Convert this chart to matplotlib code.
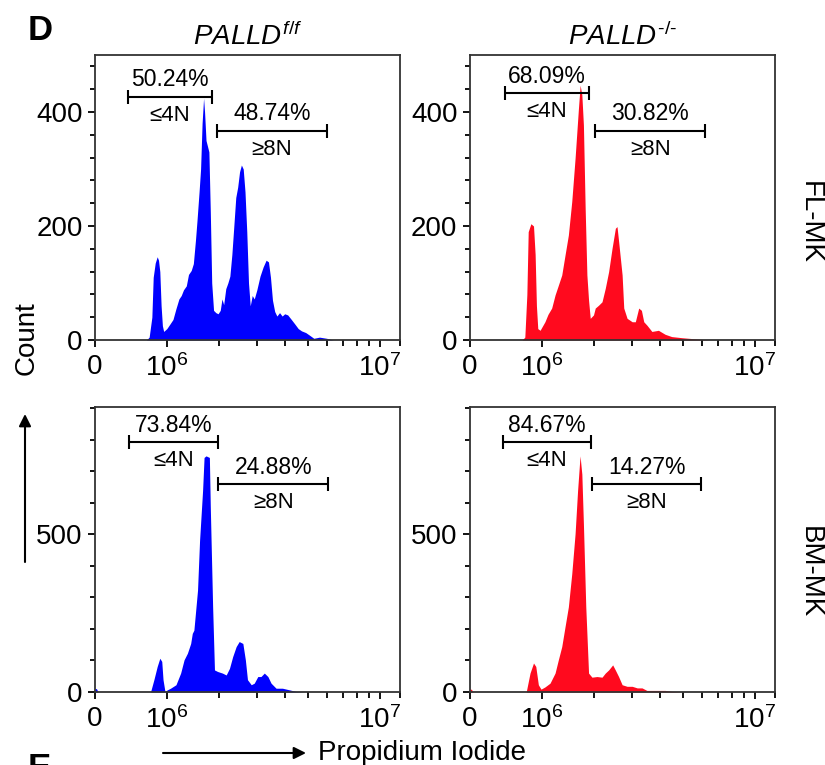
import numpy as np
import matplotlib.pyplot as plt
from matplotlib.patches import FancyArrowPatch
from matplotlib.ticker import MultipleLocator

plt.rcParams["font.family"] = ["Liberation Sans", "DejaVu Sans"]
plt.rcParams["mathtext.fontset"] = "custom"
plt.rcParams["mathtext.rm"] = "Liberation Sans"
plt.rcParams["mathtext.it"] = "Liberation Sans:italic"
plt.rcParams["mathtext.bf"] = "Liberation Sans:bold"

# --- PI histograms (intensity, count) -------------------------------------
fl_ff_x = [6.9e5, 7.3e5, 7.7e5, 7.9e5, 8.2e5, 8.5e5, 8.7e5, 8.9e5, 9.1e5, 9.3e5,
           9.5e5, 9.8e5, 1.0e6, 1.05e6, 1.1e6, 1.15e6, 1.2e6, 1.24e6, 1.28e6, 1.33e6,
           1.37e6, 1.42e6, 1.46e6, 1.5e6, 1.53e6, 1.57e6, 1.6e6, 1.63e6, 1.66e6, 1.68e6,
           1.71e6, 1.74e6, 1.77e6, 1.8e6, 1.83e6, 1.87e6, 1.92e6, 1.97e6, 2.02e6, 2.06e6,
           2.1e6, 2.15e6, 2.2e6, 2.25e6, 2.3e6, 2.35e6, 2.4e6, 2.45e6, 2.5e6, 2.55e6,
           2.6e6, 2.65e6, 2.7e6, 2.75e6, 2.8e6, 2.86e6, 2.92e6, 3.0e6, 3.1e6, 3.2e6,
           3.3e6, 3.38e6, 3.45e6, 3.52e6, 3.6e6, 3.68e6, 3.78e6, 3.88e6, 3.98e6, 4.1e6,
           4.25e6, 4.4e6, 4.55e6, 4.7e6, 4.9e6, 5.1e6, 5.3e6, 5.6e6, 6.0e6, 6.4e6]
fl_ff_count = [0, 5, 40, 110, 135, 146, 140, 120, 60, 25,
               15, 18, 20, 28, 36, 55, 72, 78, 88, 95,
               115, 122, 134, 175, 210, 260, 300, 380, 424, 400,
               350, 340, 330, 225, 100, 52, 48, 46, 52, 72,
               62, 90, 100, 112, 150, 200, 250, 268, 295, 307,
               300, 260, 190, 100, 60, 78, 72, 88, 112, 128,
               140, 137, 110, 70, 50, 42, 48, 42, 46, 44,
               36, 28, 20, 16, 13, 8, 3, 5, 3, 0]

fl_ko_x = [7.0e5, 7.4e5, 7.7e5, 7.9e5, 8.3e5, 8.7e5, 8.95e5, 9.15e5, 9.36e5, 9.72e5,
           1.05e6, 1.1e6, 1.162e6, 1.22e6, 1.277e6, 1.338e6, 1.398e6, 1.46e6, 1.525e6, 1.59e6,
           1.657e6, 1.692e6, 1.727e6, 1.76e6, 1.797e6, 1.834e6, 1.87e6, 1.907e6, 1.98e6, 2.02e6,
           2.097e6, 2.18e6, 2.261e6, 2.345e6, 2.434e6, 2.522e6, 2.567e6, 2.613e6, 2.71e6, 2.757e6,
           2.855e6, 3.01e6, 3.11e6, 3.22e6, 3.31e6, 3.39e6, 3.5e6, 3.68e6, 3.93e6, 4.2e6,
           4.48e6, 4.96e6, 5.64e6, 6.41e6]
fl_ko_count = [0, 5, 80, 190, 204, 200, 150, 60, 20, 17,
               32, 45, 56, 79, 96, 114, 149, 184, 243, 319,
               406, 447, 430, 377, 231, 114, 70, 38, 44, 56,
               61, 67, 91, 120, 161, 196, 199, 172, 114, 56,
               38, 32, 32, 56, 52, 32, 26, 15, 17, 10,
               6, 4, 2, 0]

bm_ff_x = [0, 2e4, 4e4, 7.5e5, 8.0e5, 8.5e5, 8.9e5, 9.2e5, 9.4e5, 9.7e5,
           1.01e6, 1.06e6, 1.15e6, 1.23e6, 1.29e6, 1.35e6, 1.41e6, 1.44e6, 1.47e6, 1.54e6,
           1.58e6, 1.64e6, 1.67e6, 1.71e6, 1.78e6, 1.80e6, 1.85e6, 1.89e6, 1.96e6, 2.07e6,
           2.16e6, 2.24e6, 2.32e6, 2.41e6, 2.49e6, 2.59e6, 2.66e6, 2.72e6, 2.83e6, 2.92e6,
           3.03e6, 3.13e6, 3.24e6, 3.36e6, 3.47e6, 3.65e6, 3.89e6, 4.16e6, 4.44e6, 4.74e6]
bm_ff_count = [12, 10, 0, 0, 39, 81, 107, 97, 39, 2,
               7, 12, 23, 60, 102, 123, 154, 186, 196, 323,
               481, 639, 744, 749, 744, 586, 270, 70, 65, 60,
               54, 75, 112, 144, 160, 154, 102, 39, 23, 28,
               49, 49, 60, 49, 28, 12, 12, 7, 2, 0]

bm_ko_x = [0, 2e4, 4e4, 7.6e5, 8.17e5, 8.7e5, 9.05e5, 9.45e5, 9.87e5, 1.05e6,
           1.134e6, 1.22e6, 1.277e6, 1.338e6, 1.398e6, 1.46e6, 1.525e6, 1.59e6, 1.64e6, 1.69e6,
           1.727e6, 1.76e6, 1.81e6, 1.87e6, 1.945e6, 2.06e6, 2.18e6, 2.26e6, 2.345e6, 2.45e6,
           2.52e6, 2.61e6, 2.71e6, 2.855e6, 3.01e6, 3.17e6, 3.33e6, 3.5e6, 3.8e6, 4.2e6,
           4.48e6, 4.96e6]
bm_ko_count = [10, 8, 0, 0, 60, 92, 81, 23, 9, 16,
               28, 60, 102, 144, 207, 270, 375, 502, 639, 749,
               691, 533, 270, 60, 47, 49, 47, 60, 70, 86,
               70, 49, 23, 18, 18, 13, 13, 5, 5, 5,
               2, 0]

# gates: (start, end, height)
fl_ff_gates = [(4.33e5, 1.84e6, 427), (1.95e6, 6.03e6, 367)]
fl_ko_gates = [(4.6e5, 1.87e6, 433), (2.02e6, 6.21e6, 367)]
bm_ff_gates = [(4.5e5, 1.96e6, 793), (1.98e6, 6.11e6, 660)]
bm_ko_gates = [(4.3e5, 1.93e6, 793), (1.95e6, 5.98e6, 660)]

fl_ff_pct = ["50.24%", "48.74%"]
fl_ko_pct = ["68.09%", "30.82%"]
bm_ff_pct = ["73.84%", "24.88%"]
bm_ko_pct = ["84.67%", "14.27%"]
gate_names = ["≤4N", "≥8N"]

genotypes = [r"$PALLD^{f/f}$", r"$PALLD^{\text{-/-}}$"]
rows = ["FL-MK", "BM-MK"]

x_major = [0, 1e6, 1e7]
x_major_labels = ["0", r"$\mathregular{10^6}$", r"$\mathregular{10^7}$"]
x_minor = [2e6, 3e6, 4e6, 5e6, 6e6, 7e6, 8e6, 9e6, 1.21e7]
fl_yticks = [0, 200, 400]
bm_yticks = [0, 500]

LIN_W = 1.37e6
X_MAX = 1.21e7
BLUE = "#0000fe"
RED = "#ff0a1e"

W, H = 825, 765
fig = plt.figure(figsize=(W / 100, H / 100), dpi=100)


def px_axes(left, top, right, bottom):
    return fig.add_axes([left / W, 1 - bottom / H, (right - left) / W, (bottom - top) / H])


def draw_panel(ax, x, y, color, gates, pcts, ymax, yticks, yminor):
    ax.set_xscale("asinh", linear_width=LIN_W)
    ax.fill_between(x, y, 0, color=color, lw=0)
    ax.set_xlim(0, X_MAX)
    ax.set_ylim(0, ymax)
    ax.set_xticks(x_major, labels=x_major_labels)
    ax.set_xticks(x_minor, minor=True)
    ax.set_yticks(yticks)
    ax.yaxis.set_minor_locator(MultipleLocator(yminor))
    ax.tick_params(which="both", direction="out", width=1.3, labelsize=20, color="k")
    ax.tick_params(which="major", length=5)
    ax.tick_params(which="minor", length=3.5)
    ax.tick_params(axis="x", which="minor", length=4.5)
    ax.tick_params(axis="x", pad=5)
    ax.tick_params(axis="y", pad=4)
    for sp in ax.spines.values():
        sp.set_linewidth(1.3)
        sp.set_color("#333333")

    for (x0, x1, yy), pct, name in zip(gates, pcts, gate_names):
        ax.plot([x0, x1], [yy, yy], color="k", lw=1.5, solid_capstyle="butt")
        ax.plot([x0, x1], [yy, yy], ls="none", marker="|", ms=10, mew=1.5, color="k")
        xm = LIN_W * np.sinh(np.mean(np.arcsinh(np.array([x0, x1]) / LIN_W)))
        ax.annotate(pct, (xm, yy), xytext=(0, 7.5), textcoords="offset points",
                    ha="center", va="baseline", fontsize=16.5)
        ax.annotate(name, (xm, yy), xytext=(0, -17.5), textcoords="offset points",
                    ha="center", va="baseline", fontsize=16)


ax_tl = px_axes(95, 55, 400, 340)
ax_tr = px_axes(470, 55, 775, 340)
ax_bl = px_axes(95, 407, 400, 692)
ax_br = px_axes(470, 407, 775, 692)

draw_panel(ax_tl, fl_ff_x, fl_ff_count, BLUE, fl_ff_gates, fl_ff_pct, 500, fl_yticks, 40)
draw_panel(ax_tr, fl_ko_x, fl_ko_count, RED, fl_ko_gates, fl_ko_pct, 500, fl_yticks, 40)
draw_panel(ax_bl, bm_ff_x, bm_ff_count, BLUE, bm_ff_gates, bm_ff_pct, 904, bm_yticks, 100)
draw_panel(ax_br, bm_ko_x, bm_ko_count, RED, bm_ko_gates, bm_ko_pct, 904, bm_yticks, 100)

ax_tl.set_title(genotypes[0], fontsize=20, pad=7)
ax_tr.set_title(genotypes[1], fontsize=20, pad=7)

fig.text(810 / W, 1 - 222 / H, rows[0], rotation=-90, ha="center", va="center", fontsize=20)
fig.text(810 / W, 1 - 572 / H, rows[1], rotation=-90, ha="center", va="center", fontsize=20)

fig.text(27 / W, 1 - 338 / H, "Count", rotation=90, ha="center", va="center", fontsize=20)
fig.text(318 / W, 1 - 760 / H, "Propidium Iodide", ha="left", va="baseline", fontsize=20)

for start, end in [((25, 562), (25, 414)), ((163, 753), (306, 753))]:
    fig.add_artist(FancyArrowPatch((start[0] / W, 1 - start[1] / H), (end[0] / W, 1 - end[1] / H),
                                   transform=fig.transFigure, arrowstyle="-|>",
                                   mutation_scale=18, lw=1.5, color="k",
                                   shrinkA=0, shrinkB=0))

fig.text(28 / W, 1 - 14 / H, "D", fontsize=25, fontweight="bold", va="top", ha="left")
fig.text(28 / W, 1 - 752 / H, "E", fontsize=25, fontweight="bold", va="top", ha="left")

fig.savefig("out.png", dpi=100)
